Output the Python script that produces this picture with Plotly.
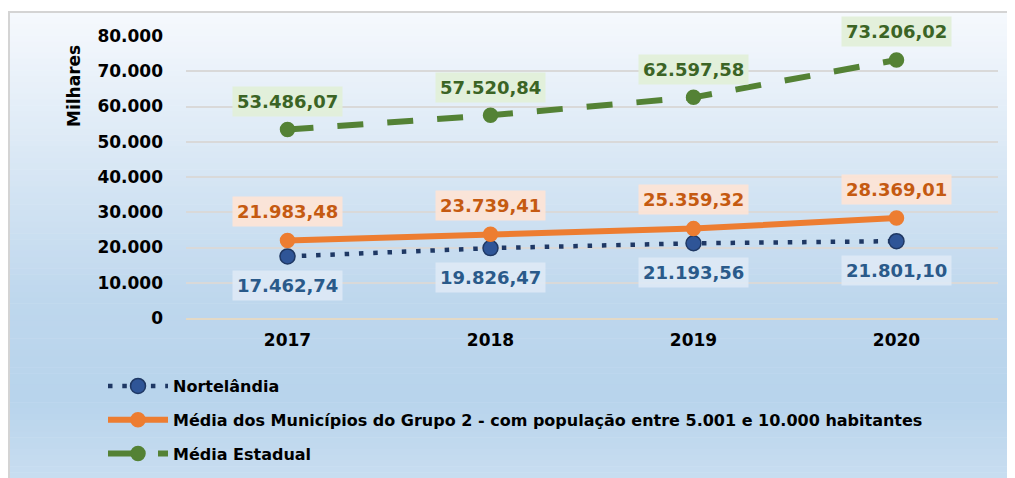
import plotly.graph_objects as go

years = ["2017", "2018", "2019", "2020"]
nortelandia = [17462.74, 19826.47, 21193.56, 21801.10]
grupo2 = [21983.48, 23739.41, 25359.32, 28369.01]
estadual = [53486.07, 57520.84, 62597.58, 73206.02]

names = [
    "Nortelândia",
    "Média dos Municípios do Grupo 2 - com população entre 5.001 e 10.000 habitantes",
    "Média Estadual",
]

FONT = "DejaVu Sans"


def br(v):
    s = f"{v:,.2f}"
    return s.replace(",", "X").replace(".", ",").replace("X", ".")


fig = go.Figure()

series = [
    dict(y=nortelandia, name=names[0], lc="#1f3864", mc="#2f5597", mlc="#1f3864",
         lw=4.5, dash="4.5px,9.8px", ms=15, tc="#2a5a8a", bg="rgba(222,233,245,0.9)", shift=-29),
    dict(y=grupo2, name=names[1], lc="#ed7d31", mc="#ed7d31", mlc="#ed7d31",
         lw=6, dash="solid", ms=14, tc="#c55a11", bg="rgba(252,228,214,0.95)", shift=29),
    dict(y=estadual, name=names[2], lc="#548235", mc="#548235", mlc="#548235",
         lw=6, dash="26px,24px", ms=14, tc="#3b6425", bg="rgba(226,239,217,0.95)", shift=28),
]

for i, s in enumerate(series):
    fig.add_trace(go.Scatter(
        x=years, y=s["y"], name=s["name"], mode="lines+markers",
        line=dict(color=s["lc"], width=s["lw"], dash=s["dash"]),
        marker=dict(size=s["ms"], color=s["mc"], line=dict(color=s["mlc"], width=1.5)),
        legendgroup=f"g{i}",
    ))
    for xi, v in enumerate(s["y"]):
        fig.add_annotation(
            x=xi, y=v, xref="x", yref="y", text=br(v), showarrow=False,
            yshift=s["shift"], bgcolor=s["bg"], borderpad=4,
            font=dict(family=FONT, size=18, color=s["tc"], weight="bold"),
        )

# page offset (body margin) and plot-area geometry, in figure pixels
OFF = 8
FW, FH = 1015 - OFF, 478 - OFF
L, R, T, B = 186 - OFF, 998 - OFF, 36 - OFF, 318 - OFF
W, H = R - L, B - T


def px_x(p):  # p in page pixels
    return (p - OFF - L) / W


def px_y(p):
    return (B - (p - OFF)) / H


stops = [(12, (246, 249, 253)), (300, (190, 215, 237)), (400, (184, 212, 236)), (478, (200, 221, 240))]
n = 80
y_top, y_bot = 12, 478
for k in range(n):
    p0 = y_top + (y_bot - y_top) * k / n
    p1 = y_top + (y_bot - y_top) * (k + 1) / n
    pm = (p0 + p1) / 2
    for j in range(len(stops) - 1):
        if stops[j][0] <= pm <= stops[j + 1][0]:
            a, ca = stops[j]
            b, cb = stops[j + 1]
            t = (pm - a) / (b - a)
            c = tuple(round(ca[m] + (cb[m] - ca[m]) * t) for m in range(3))
            break
    fig.add_shape(type="rect", xref="paper", yref="paper", layer="below",
                  x0=px_x(8), x1=px_x(1016), y0=px_y(p1 + 0.5), y1=px_y(p0),
                  fillcolor=f"rgb{c}", line=dict(width=0))

fig.add_shape(type="rect", xref="paper", yref="paper", layer="below",
              x0=px_x(9), x1=px_x(1017), y0=px_y(480), y1=px_y(12),
              fillcolor="rgba(0,0,0,0)", line=dict(color="#d4d4d4", width=2))

fig.add_annotation(
    x=px_x(74), y=px_y(86), xref="paper", yref="paper", text="Milhares",
    textangle=-90, showarrow=False, xanchor="center", yanchor="middle",
    font=dict(family=FONT, size=17, color="#000000", weight="bold"),
)

fig.update_layout(
    width=FW, height=FH,
    margin=dict(l=L, r=FW - R, t=T, b=FH - B, autoexpand=False),
    paper_bgcolor="#ffffff",
    plot_bgcolor="rgba(0,0,0,0)",
    separators=",.",
    font=dict(family=FONT, size=17, color="#000000", weight="bold"),
    showlegend=True,
    legend=dict(
        orientation="v", x=px_x(103), y=px_y(369), xanchor="left", yanchor="top",
        bgcolor="rgba(0,0,0,0)", font=dict(family=FONT, size=16, color="#000000", weight="bold"),
        itemwidth=60, tracegroupgap=10,
    ),
    xaxis=dict(
        type="category", range=[-0.5, 3.5], showgrid=False, zeroline=False,
        showline=True, linecolor="#e3d9c6", linewidth=2,
        tickfont=dict(family=FONT, size=17, color="#000000", weight="bold"),
        ticklabelstandoff=6,
    ),
    yaxis=dict(
        range=[0, 80000], dtick=10000, tickformat=",.0f",
        showgrid=True, gridcolor="#d9d9d9", gridwidth=2, zeroline=False,
        tickfont=dict(family=FONT, size=17, color="#000000", weight="bold"),
        ticklabelstandoff=22,
    ),
)

fig.write_html("out.html")
